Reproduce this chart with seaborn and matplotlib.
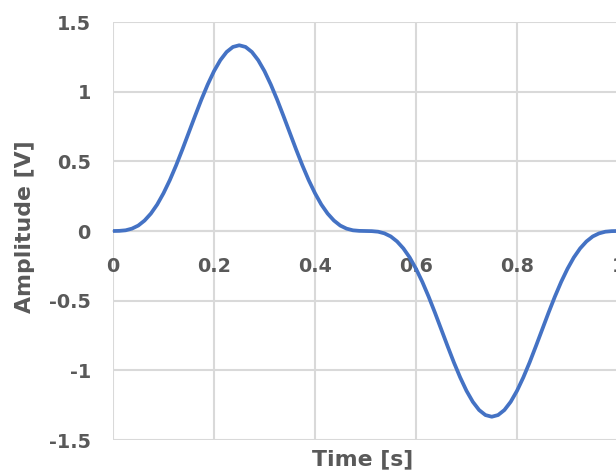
import matplotlib
matplotlib.use("Agg")
import matplotlib.pyplot as plt
import seaborn as sns

# Sampled waveform: time [s] and amplitude [V]
time_s = [
    0.0000, 0.0125, 0.0250, 0.0375, 0.0500, 0.0625, 0.0750, 0.0875, 0.1000, 0.1125,
    0.1250, 0.1375, 0.1500, 0.1625, 0.1750, 0.1875, 0.2000, 0.2125, 0.2250, 0.2375,
    0.2500, 0.2625, 0.2750, 0.2875, 0.3000, 0.3125, 0.3250, 0.3375, 0.3500, 0.3625,
    0.3750, 0.3875, 0.4000, 0.4125, 0.4250, 0.4375, 0.4500, 0.4625, 0.4750, 0.4875,
    0.5000, 0.5125, 0.5250, 0.5375, 0.5500, 0.5625, 0.5750, 0.5875, 0.6000, 0.6125,
    0.6250, 0.6375, 0.6500, 0.6625, 0.6750, 0.6875, 0.7000, 0.7125, 0.7250, 0.7375,
    0.7500, 0.7625, 0.7750, 0.7875, 0.8000, 0.8125, 0.8250, 0.8375, 0.8500, 0.8625,
    0.8750, 0.8875, 0.9000, 0.9125, 0.9250, 0.9375, 0.9500, 0.9625, 0.9750, 0.9875,
    1.0000,
]
amplitude_v = [
    0.000, 0.001, 0.005, 0.017, 0.039, 0.075, 0.125, 0.190, 0.271, 0.365,
    0.471, 0.586, 0.706, 0.826, 0.943, 1.051, 1.147, 1.226, 1.285, 1.321,
    1.333, 1.321, 1.285, 1.226, 1.147, 1.051, 0.943, 0.826, 0.706, 0.586,
    0.471, 0.365, 0.271, 0.190, 0.125, 0.075, 0.039, 0.017, 0.005, 0.001,
    0.000, -0.001, -0.005, -0.017, -0.039, -0.075, -0.125, -0.190, -0.271, -0.365,
    -0.471, -0.586, -0.706, -0.826, -0.943, -1.051, -1.147, -1.226, -1.285, -1.321,
    -1.333, -1.321, -1.285, -1.226, -1.147, -1.051, -0.943, -0.826, -0.706, -0.586,
    -0.471, -0.365, -0.271, -0.190, -0.125, -0.075, -0.039, -0.017, -0.005, -0.001,
    0.000,
]

x_ticks = [0, 0.2, 0.4, 0.6, 0.8, 1]
x_tick_labels = ["0", "0.2", "0.4", "0.6", "0.8", "1"]
y_ticks = [-1.5, -1, -0.5, 0, 0.5, 1, 1.5]
y_tick_labels = ["-1.5", "-1", "-0.5", "0", "0.5", "1", "1.5"]

LINE_BLUE = "#4472C4"
GRID_GREY = "#D9D9D9"
TEXT_GREY = "#595959"

sns.set_theme(style="white")
plt.rcParams["font.family"] = ["DejaVu Sans"]

fig = plt.figure(figsize=(6.16, 4.73), dpi=100)
fig.patch.set_facecolor("white")
ax = fig.add_axes([113 / 616, 33 / 473, 505 / 616, 418 / 473])

line_ax = sns.lineplot(x=time_s, y=amplitude_v, ax=ax, color=LINE_BLUE,
                       linewidth=2.7, sort=False, zorder=3)
for ln in line_ax.get_lines():
    ln.set_solid_joinstyle("round")
    ln.set_solid_capstyle("round")

ax.set_xlim(0, 1)
ax.set_ylim(-1.5, 1.5)

ax.set_xticks(x_ticks)
ax.set_xticklabels(x_tick_labels)
ax.set_yticks(y_ticks)
ax.set_yticklabels(y_tick_labels)

ax.grid(True, color=GRID_GREY, linewidth=1.5)
ax.set_axisbelow(True)

for side in ("top", "right", "left"):
    ax.spines[side].set_visible(False)
# horizontal axis crosses at zero amplitude
ax.spines["bottom"].set_position(("data", 0))
ax.spines["bottom"].set_color(GRID_GREY)
ax.spines["bottom"].set_linewidth(1.5)
ax.spines["bottom"].set_zorder(1)

ax.tick_params(axis="x", length=0, pad=18.5, labelsize=13.8,
               labelcolor=TEXT_GREY)
ax.tick_params(axis="y", length=0, pad=16, labelsize=13.8,
               labelcolor=TEXT_GREY)
for lbl in ax.get_xticklabels() + ax.get_yticklabels():
    lbl.set_fontweight("bold")

ax.set_xlabel("Time [s]", fontsize=15.8, fontweight="bold", color=TEXT_GREY)
ax.xaxis.label.set_va("center")
ax.xaxis.set_label_coords(0.495, -0.0455)

ax.set_ylabel("Amplitude [V]", fontsize=15.8, fontweight="bold", color=TEXT_GREY)
ax.yaxis.label.set_va("center")
ax.yaxis.set_label_coords(-0.174, 0.51)

fig.savefig("out.png", dpi=100, facecolor="white")
